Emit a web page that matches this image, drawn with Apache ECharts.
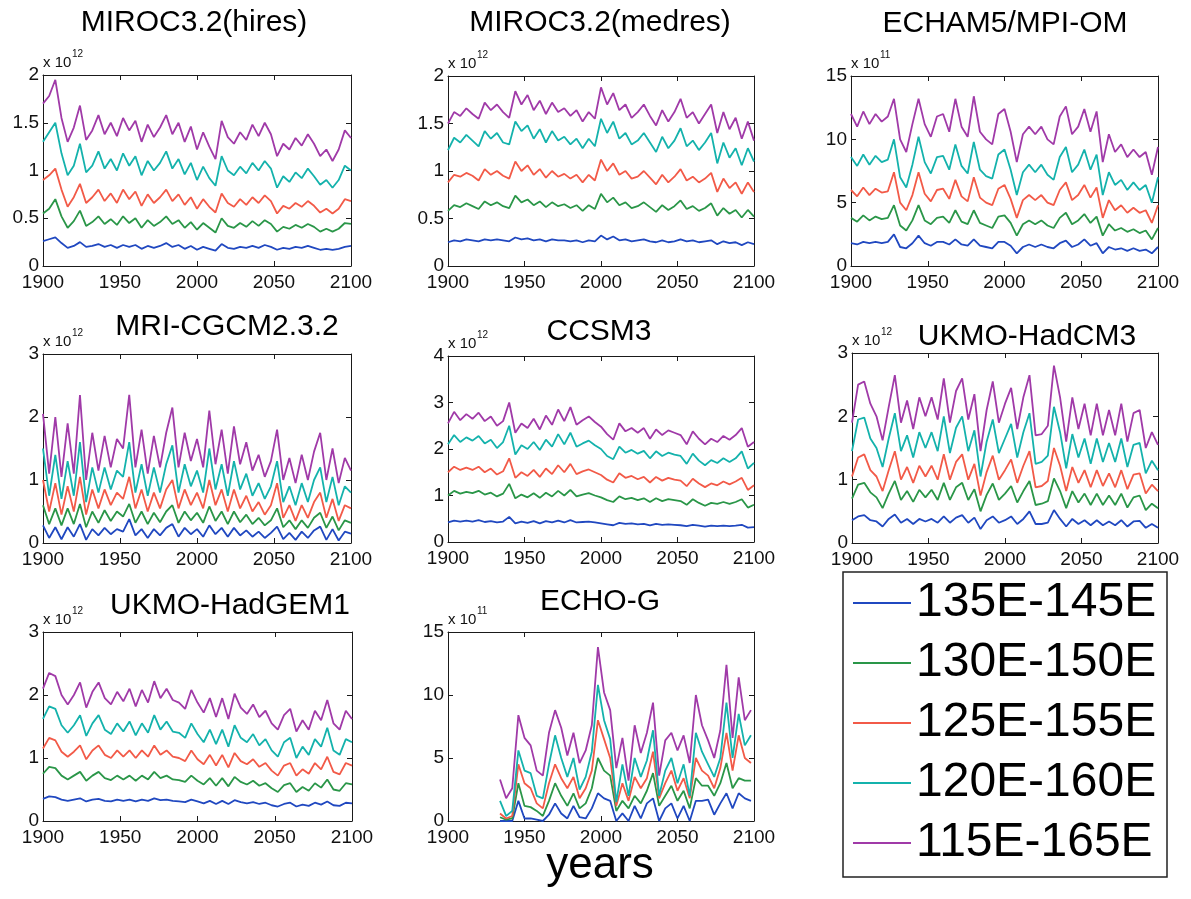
<!DOCTYPE html>
<html><head><meta charset="utf-8">
<script src="https://cdn.jsdelivr.net/npm/echarts@6/dist/echarts.min.js"></script>
<style>html,body{margin:0;padding:0;background:#fff}#c{width:1191px;height:899px}</style>
</head><body><div id="c"></div>
<script>
// ---------- categories / tick data ----------
const years = [1900,1904,1908,1912,1916,1920,1924,1928,1932,1936,1940,1944,1948,1952,1956,1960,1964,1968,1972,1976,1980,1984,1988,1992,1996,2000,2004,2008,2012,2016,2020,2024,2028,2032,2036,2040,2044,2048,2052,2056,2060,2064,2068,2072,2076,2080,2084,2088,2092,2096,2100];
const yearsEchoG = [1934,1938,1942,1946,1950,1954,1958,1962,1966,1970,1974,1978,1982,1986,1990,1994,1998,2002,2006,2010,2014,2018,2022,2026,2030,2034,2038,2042,2046,2050,2054,2058,2062,2066,2070,2074,2078,2082,2086,2090,2094,2098];
const seriesNames = ['135E-145E','130E-150E','125E-155E','120E-160E','115E-165E'];
const seriesColors = ['#2048c0','#2a9648','#f25a48','#14b2ac','#a03aa8'];
const panelTitles = ['MIROC3.2(hires)','MIROC3.2(medres)','ECHAM5/MPI-OM','MRI-CGCM2.3.2','CCSM3','UKMO-HadCM3','UKMO-HadGEM1','ECHO-G'];
const panelExponents = ['12','12','11','12','12','12','12','11'];
const panelYMax = [2,2,15,3,4,3,3,15];
const panelYStep = [0.5,0.5,5,1,1,1,1,5];

// ---------- MIROC3.2(hires) (x 10^12) ----------
const hires_135 = [0.26,0.28,0.30,0.24,0.19,0.21,0.25,0.20,0.21,0.23,0.20,0.22,0.19,0.22,0.20,0.22,0.18,0.21,0.19,0.21,0.24,0.20,0.22,0.18,0.21,0.17,0.20,0.18,0.16,0.23,0.19,0.18,0.20,0.19,0.21,0.19,0.22,0.20,0.17,0.19,0.18,0.20,0.19,0.21,0.19,0.17,0.18,0.17,0.18,0.20,0.21];
const hires_130 = [0.55,0.60,0.70,0.52,0.40,0.47,0.58,0.42,0.46,0.52,0.44,0.49,0.43,0.52,0.45,0.50,0.40,0.48,0.42,0.46,0.52,0.44,0.48,0.40,0.46,0.38,0.45,0.40,0.35,0.50,0.42,0.40,0.45,0.41,0.47,0.42,0.48,0.44,0.36,0.41,0.39,0.43,0.40,0.44,0.41,0.36,0.39,0.36,0.39,0.45,0.44];
const hires_125 = [0.90,0.95,1.02,0.80,0.62,0.72,0.86,0.66,0.72,0.80,0.68,0.76,0.66,0.80,0.70,0.78,0.63,0.75,0.66,0.72,0.80,0.68,0.75,0.64,0.72,0.60,0.70,0.62,0.56,0.76,0.66,0.62,0.70,0.64,0.72,0.66,0.74,0.68,0.55,0.63,0.60,0.66,0.62,0.68,0.63,0.56,0.60,0.55,0.60,0.70,0.68];
const hires_120 = [1.30,1.40,1.50,1.18,0.95,1.05,1.28,0.98,1.05,1.20,1.02,1.12,1.00,1.18,1.05,1.15,0.95,1.10,1.00,1.08,1.20,1.02,1.12,0.96,1.08,0.90,1.04,0.92,0.84,1.15,1.00,0.95,1.04,0.97,1.08,1.00,1.10,1.02,0.82,0.94,0.88,0.98,0.92,1.02,0.94,0.85,0.90,0.82,0.90,1.05,1.00];
const hires_115 = [1.70,1.78,1.95,1.55,1.30,1.45,1.68,1.32,1.42,1.58,1.38,1.50,1.36,1.55,1.42,1.52,1.30,1.48,1.35,1.45,1.58,1.38,1.50,1.30,1.46,1.22,1.40,1.25,1.12,1.52,1.35,1.28,1.40,1.32,1.48,1.36,1.50,1.38,1.15,1.28,1.22,1.34,1.26,1.38,1.28,1.15,1.22,1.10,1.22,1.42,1.34];

// ---------- MIROC3.2(medres) (x 10^12) ----------
const medres_135 = [0.25,0.27,0.26,0.28,0.27,0.26,0.28,0.27,0.28,0.27,0.26,0.30,0.28,0.29,0.27,0.28,0.26,0.28,0.27,0.27,0.26,0.27,0.25,0.27,0.26,0.32,0.28,0.31,0.27,0.28,0.26,0.27,0.28,0.26,0.25,0.27,0.25,0.26,0.28,0.26,0.27,0.25,0.26,0.27,0.23,0.26,0.24,0.25,0.22,0.25,0.23];
const medres_130 = [0.58,0.64,0.62,0.66,0.63,0.60,0.68,0.64,0.67,0.63,0.61,0.74,0.67,0.70,0.64,0.68,0.62,0.67,0.63,0.65,0.61,0.64,0.58,0.64,0.60,0.76,0.67,0.72,0.64,0.67,0.61,0.63,0.67,0.62,0.57,0.64,0.59,0.63,0.69,0.60,0.63,0.58,0.61,0.66,0.53,0.61,0.55,0.59,0.51,0.59,0.52];
const medres_125 = [0.88,0.96,0.94,0.98,0.95,0.90,1.02,0.96,1.00,0.95,0.92,1.10,1.00,1.06,0.96,1.02,0.93,1.00,0.94,0.97,0.92,0.96,0.88,0.96,0.90,1.12,1.00,1.08,0.96,1.00,0.92,0.94,1.00,0.93,0.86,0.96,0.88,0.94,1.02,0.90,0.94,0.88,0.92,0.98,0.78,0.92,0.82,0.88,0.76,0.88,0.78];
const medres_120 = [1.22,1.35,1.30,1.38,1.32,1.26,1.42,1.34,1.40,1.30,1.28,1.52,1.42,1.48,1.34,1.44,1.30,1.42,1.32,1.36,1.28,1.34,1.24,1.34,1.26,1.55,1.40,1.52,1.34,1.40,1.28,1.32,1.40,1.30,1.20,1.36,1.24,1.32,1.45,1.26,1.32,1.22,1.30,1.40,1.08,1.30,1.14,1.24,1.06,1.24,1.10];
const medres_115 = [1.50,1.62,1.58,1.66,1.60,1.55,1.72,1.64,1.70,1.62,1.56,1.84,1.70,1.80,1.64,1.74,1.60,1.72,1.62,1.66,1.58,1.64,1.52,1.62,1.55,1.88,1.70,1.82,1.64,1.70,1.56,1.62,1.70,1.58,1.48,1.64,1.52,1.62,1.76,1.56,1.62,1.50,1.60,1.70,1.40,1.62,1.44,1.56,1.34,1.52,1.32];

// ---------- ECHAM5/MPI-OM (x 10^11) ----------
const echam_135 = [1.8,1.7,1.9,1.8,1.9,1.8,1.9,2.5,1.5,1.4,1.8,2.4,1.8,1.6,1.9,1.9,1.7,2.1,1.7,1.6,2.1,1.6,1.5,1.4,1.9,1.9,1.6,1.0,1.5,1.7,1.5,1.7,1.5,1.4,1.8,2.0,1.5,1.7,2.1,1.6,1.8,1.0,1.5,1.3,1.4,1.2,1.4,1.2,1.3,1.0,1.5];
const echam_130 = [3.8,3.5,4.0,3.6,3.9,3.7,3.8,4.8,3.2,2.8,3.6,4.8,3.6,3.3,3.8,3.9,3.4,4.4,3.5,3.3,4.4,3.4,3.2,3.0,3.9,4.0,3.4,2.4,3.3,3.6,3.3,3.6,3.2,3.0,3.8,4.2,3.3,3.6,4.1,3.4,3.9,2.4,3.3,2.8,3.0,2.7,2.9,2.6,2.8,2.1,3.0];
const echam_125 = [6.0,5.5,6.2,5.6,6.1,5.8,5.9,7.4,5.0,4.4,5.6,7.4,5.7,5.1,6.0,6.1,5.3,6.8,5.5,5.1,7.0,5.4,5.0,4.8,6.1,6.4,5.3,3.8,5.2,5.6,5.2,5.6,5.0,4.8,6.0,6.6,5.2,5.6,6.4,5.4,6.2,3.8,5.2,4.4,4.8,4.2,4.6,4.2,4.4,3.4,4.8];
const echam_120 = [8.6,7.9,8.8,8.0,8.7,8.2,8.4,10.0,7.0,6.2,8.0,10.2,8.2,7.3,8.6,8.7,7.6,9.6,7.9,7.3,9.8,7.6,7.1,6.9,8.8,9.2,7.6,5.6,7.4,8.0,7.4,8.0,7.2,6.8,8.6,9.4,7.4,8.0,9.2,7.6,8.8,5.6,7.4,6.4,6.8,6.0,6.6,6.0,6.4,5.0,7.0];
const echam_115 = [12.0,11.0,12.2,11.2,12.0,11.4,11.8,13.2,10.0,9.0,11.2,13.2,11.2,10.2,11.8,12.0,10.6,13.2,11.0,10.2,13.4,10.6,10.0,9.6,12.0,12.4,10.6,8.2,10.4,11.0,10.4,11.0,10.0,9.6,11.8,12.6,10.4,11.0,12.4,10.6,12.2,8.2,10.4,9.0,9.6,8.6,9.2,8.6,9.0,7.2,9.4];

// ---------- MRI-CGCM2.3.2 (x 10^12) ----------
const mri_135 = [0.28,0.08,0.25,0.06,0.25,0.10,0.30,0.05,0.22,0.12,0.24,0.14,0.22,0.18,0.38,0.12,0.22,0.08,0.22,0.12,0.24,0.30,0.10,0.24,0.14,0.22,0.10,0.28,0.14,0.24,0.10,0.24,0.12,0.20,0.10,0.18,0.08,0.16,0.26,0.06,0.16,0.05,0.18,0.08,0.20,0.26,0.05,0.22,0.04,0.18,0.15];
const mri_130 = [0.60,0.30,0.55,0.28,0.55,0.30,0.62,0.25,0.50,0.32,0.52,0.35,0.50,0.42,0.62,0.32,0.50,0.30,0.48,0.33,0.50,0.60,0.32,0.50,0.36,0.48,0.32,0.58,0.35,0.50,0.30,0.50,0.33,0.45,0.30,0.40,0.28,0.36,0.55,0.25,0.36,0.22,0.36,0.24,0.40,0.48,0.24,0.42,0.20,0.36,0.32];
const mri_125 = [1.00,0.50,0.95,0.45,0.90,0.50,1.05,0.45,0.85,0.55,0.85,0.60,0.80,0.70,1.05,0.55,0.85,0.50,0.80,0.55,0.85,1.00,0.55,0.85,0.60,0.80,0.55,1.00,0.60,0.85,0.50,0.85,0.55,0.75,0.50,0.65,0.45,0.60,0.95,0.40,0.60,0.35,0.60,0.40,0.65,0.80,0.40,0.70,0.35,0.60,0.55];
const mri_120 = [1.50,0.75,1.40,0.70,1.30,0.75,1.60,0.65,1.20,0.80,1.20,0.85,1.15,1.05,1.60,0.80,1.25,0.75,1.20,0.80,1.25,1.55,0.80,1.25,0.90,1.15,0.80,1.50,0.85,1.25,0.75,1.30,0.85,1.10,0.75,0.95,0.70,0.90,1.30,0.65,0.90,0.60,0.95,0.65,1.00,1.20,0.65,1.05,0.60,0.90,0.80];
const mri_115 = [2.05,1.10,2.00,1.05,1.90,1.10,2.35,1.00,1.75,1.15,1.70,1.20,1.65,1.50,2.35,1.20,1.80,1.10,1.70,1.20,1.75,2.15,1.20,1.75,1.30,1.65,1.20,2.10,1.25,1.80,1.10,1.85,1.25,1.60,1.15,1.40,1.05,1.30,1.80,1.00,1.35,0.95,1.40,1.00,1.45,1.75,1.00,1.50,0.95,1.35,1.15];

// ---------- CCSM3 (x 10^12) ----------
const ccsm_135 = [0.42,0.46,0.44,0.46,0.44,0.47,0.43,0.45,0.42,0.44,0.54,0.40,0.44,0.41,0.45,0.40,0.45,0.42,0.46,0.42,0.47,0.42,0.43,0.44,0.42,0.40,0.38,0.36,0.41,0.39,0.40,0.38,0.39,0.36,0.39,0.37,0.38,0.37,0.36,0.34,0.37,0.35,0.33,0.35,0.34,0.35,0.34,0.35,0.37,0.31,0.32];
const ccsm_130 = [1.00,1.10,1.04,1.08,1.05,1.10,1.02,1.06,0.98,1.04,1.25,0.94,1.02,0.96,1.05,0.95,1.06,0.98,1.10,1.00,1.12,0.98,1.02,1.05,1.00,0.96,0.90,0.86,0.98,0.92,0.95,0.90,0.94,0.86,0.94,0.88,0.92,0.90,0.88,0.80,0.92,0.84,0.78,0.84,0.82,0.86,0.82,0.86,0.92,0.74,0.80];
const ccsm_125 = [1.50,1.62,1.55,1.60,1.55,1.62,1.50,1.58,1.45,1.52,1.80,1.38,1.50,1.42,1.55,1.40,1.58,1.46,1.65,1.50,1.68,1.46,1.52,1.56,1.50,1.44,1.34,1.28,1.48,1.38,1.42,1.35,1.40,1.28,1.40,1.32,1.38,1.34,1.32,1.20,1.36,1.26,1.18,1.26,1.22,1.30,1.24,1.30,1.38,1.12,1.22];
const ccsm_120 = [2.10,2.30,2.15,2.25,2.18,2.28,2.12,2.20,2.02,2.15,2.50,1.88,2.08,2.00,2.15,1.98,2.20,2.05,2.32,2.10,2.35,2.05,2.12,2.18,2.08,2.00,1.85,1.78,2.05,1.92,1.98,1.90,1.96,1.80,1.95,1.85,1.92,1.88,1.85,1.68,1.90,1.75,1.65,1.76,1.70,1.80,1.72,1.80,1.95,1.58,1.70];
const ccsm_115 = [2.55,2.80,2.62,2.75,2.65,2.78,2.60,2.70,2.50,2.60,3.00,2.35,2.55,2.45,2.65,2.42,2.72,2.52,2.85,2.60,2.90,2.52,2.62,2.70,2.58,2.48,2.32,2.20,2.55,2.38,2.45,2.35,2.45,2.22,2.42,2.30,2.40,2.35,2.30,2.10,2.38,2.22,2.10,2.22,2.15,2.28,2.20,2.30,2.45,2.05,2.15];

// ---------- UKMO-HadCM3 (x 10^12) ----------
const hadcm_135 = [0.36,0.42,0.44,0.36,0.34,0.26,0.38,0.45,0.32,0.38,0.30,0.38,0.34,0.38,0.32,0.42,0.32,0.40,0.44,0.32,0.40,0.22,0.36,0.42,0.32,0.36,0.42,0.30,0.38,0.50,0.30,0.30,0.32,0.52,0.38,0.26,0.38,0.30,0.36,0.28,0.36,0.28,0.34,0.28,0.36,0.26,0.34,0.35,0.24,0.30,0.24];
const hadcm_130 = [0.70,0.92,0.95,0.80,0.72,0.55,0.78,0.98,0.68,0.82,0.65,0.84,0.72,0.84,0.68,0.95,0.68,0.88,0.95,0.68,0.85,0.50,0.76,0.94,0.68,0.78,0.90,0.64,0.82,0.98,0.60,0.62,0.66,1.02,0.82,0.55,0.82,0.64,0.78,0.60,0.78,0.60,0.75,0.60,0.78,0.56,0.72,0.75,0.52,0.62,0.55];
const hadcm_125 = [1.05,1.35,1.40,1.15,1.05,0.82,1.15,1.45,1.00,1.20,0.95,1.22,1.05,1.22,1.00,1.40,1.00,1.28,1.40,1.00,1.25,0.75,1.12,1.38,1.00,1.15,1.32,0.95,1.22,1.45,0.88,0.90,0.98,1.50,1.22,0.82,1.20,0.95,1.15,0.88,1.15,0.90,1.10,0.88,1.15,0.85,1.08,1.10,0.78,0.92,0.82];
const hadcm_120 = [1.45,1.95,1.98,1.65,1.50,1.20,1.65,2.05,1.45,1.70,1.35,1.75,1.50,1.75,1.45,2.00,1.42,1.82,2.00,1.45,1.78,1.05,1.60,1.95,1.42,1.65,1.88,1.35,1.75,2.05,1.25,1.28,1.38,2.15,1.75,1.18,1.72,1.35,1.65,1.25,1.65,1.28,1.58,1.28,1.65,1.20,1.55,1.58,1.10,1.30,1.15];
const hadcm_115 = [1.90,2.50,2.55,2.20,2.00,1.62,2.15,2.65,1.90,2.25,1.80,2.30,2.00,2.30,1.95,2.60,1.90,2.40,2.60,1.95,2.35,1.45,2.10,2.55,1.90,2.20,2.45,1.80,2.30,2.65,1.70,1.72,1.85,2.80,2.30,1.60,2.30,1.80,2.20,1.70,2.20,1.70,2.10,1.70,2.20,1.60,2.05,2.10,1.50,1.75,1.55];

// ---------- UKMO-HadGEM1 (x 10^12) ----------
const hadgem_135 = [0.35,0.39,0.38,0.34,0.32,0.34,0.36,0.31,0.34,0.35,0.32,0.31,0.34,0.32,0.34,0.31,0.34,0.32,0.36,0.33,0.34,0.32,0.31,0.30,0.34,0.31,0.28,0.32,0.27,0.32,0.27,0.33,0.30,0.28,0.30,0.27,0.29,0.25,0.23,0.27,0.29,0.23,0.26,0.24,0.29,0.26,0.31,0.25,0.24,0.29,0.28];
const hadgem_130 = [0.75,0.86,0.84,0.72,0.66,0.72,0.78,0.64,0.72,0.78,0.68,0.65,0.72,0.66,0.72,0.64,0.72,0.66,0.78,0.68,0.72,0.66,0.65,0.62,0.72,0.64,0.58,0.68,0.56,0.68,0.55,0.70,0.62,0.58,0.64,0.56,0.60,0.52,0.46,0.57,0.60,0.46,0.54,0.48,0.60,0.53,0.66,0.50,0.48,0.60,0.58];
const hadgem_125 = [1.15,1.32,1.28,1.10,1.02,1.10,1.20,0.98,1.12,1.20,1.05,1.00,1.12,1.02,1.12,1.00,1.12,1.02,1.20,1.05,1.12,1.02,1.00,0.95,1.12,0.98,0.90,1.05,0.88,1.05,0.85,1.08,0.95,0.90,0.98,0.86,0.92,0.80,0.72,0.88,0.92,0.72,0.82,0.75,0.92,0.82,1.02,0.78,0.74,0.92,0.88];
const hadgem_120 = [1.62,1.82,1.78,1.52,1.40,1.52,1.68,1.35,1.55,1.68,1.45,1.38,1.55,1.42,1.58,1.36,1.55,1.40,1.68,1.45,1.58,1.42,1.40,1.32,1.55,1.38,1.25,1.45,1.22,1.45,1.18,1.52,1.32,1.25,1.38,1.20,1.30,1.12,1.02,1.25,1.32,1.00,1.18,1.05,1.30,1.18,1.48,1.12,1.05,1.30,1.25];
const hadgem_115 = [2.10,2.35,2.30,2.00,1.85,2.00,2.20,1.80,2.05,2.20,1.95,1.85,2.05,1.90,2.10,1.82,2.08,1.88,2.22,1.95,2.10,1.92,1.88,1.78,2.08,1.88,1.72,1.95,1.65,1.95,1.62,2.02,1.80,1.70,1.85,1.65,1.75,1.55,1.45,1.68,1.78,1.42,1.60,1.45,1.75,1.60,1.92,1.55,1.45,1.75,1.62];

// ---------- ECHO-G (x 10^11), starts 1934 ----------
const echo_135 = [0.0,0.0,0.0,1.6,0.2,0.2,0.1,0.0,0.5,1.4,0.6,0.2,1.2,0.3,0.2,1.0,2.2,1.8,1.6,0.0,0.6,0.0,1.2,0.2,1.4,1.8,0.0,1.0,1.4,0.2,1.2,0.0,1.6,1.6,1.7,0.5,1.4,2.2,1.0,2.2,1.8,1.6];
const echo_130 = [0.3,0.1,0.2,3.0,1.2,1.1,0.8,0.4,1.6,3.0,2.0,1.2,2.2,1.0,1.4,2.6,5.0,4.0,3.6,0.8,1.6,1.0,2.0,1.4,2.4,3.8,1.2,2.0,2.8,1.6,2.4,1.0,3.4,2.8,2.8,2.0,3.0,4.6,2.6,3.4,3.2,3.2];
const echo_125 = [0.6,0.2,0.4,4.5,3.0,2.6,1.4,1.0,3.0,4.5,3.4,2.6,3.5,1.8,2.6,4.0,8.0,6.5,5.0,1.2,3.0,1.6,3.5,2.6,3.4,5.5,1.8,3.0,4.0,2.4,3.4,1.8,5.0,4.0,3.6,2.6,4.2,7.0,4.0,6.8,5.0,4.6];
const echo_120 = [1.6,0.4,0.8,5.6,4.0,3.8,2.0,1.8,4.5,6.8,5.0,3.5,5.0,2.5,3.5,5.5,10.8,8.0,6.5,1.5,4.5,2.0,5.0,3.5,4.8,7.2,2.0,4.0,5.0,3.0,4.5,2.0,7.0,5.5,4.5,3.5,5.0,9.4,5.0,8.5,6.0,6.8];
const echo_115 = [3.3,1.8,2.6,8.4,6.6,6.0,4.0,3.6,7.0,8.8,7.4,5.2,7.0,4.6,5.6,7.6,13.8,10.2,8.8,4.2,6.6,3.2,7.6,5.4,7.0,9.4,3.6,6.4,7.0,5.6,6.8,4.6,10.0,7.6,6.4,5.0,7.2,12.4,6.6,11.4,8.0,8.8];

const panelX = [years,years,years,years,years,years,years,yearsEchoG];
const panelData = [
  [hires_135,hires_130,hires_125,hires_120,hires_115],
  [medres_135,medres_130,medres_125,medres_120,medres_115],
  [echam_135,echam_130,echam_125,echam_120,echam_115],
  [mri_135,mri_130,mri_125,mri_120,mri_115],
  [ccsm_135,ccsm_130,ccsm_125,ccsm_120,ccsm_115],
  [hadcm_135,hadcm_130,hadcm_125,hadcm_120,hadcm_115],
  [hadgem_135,hadgem_130,hadgem_125,hadgem_120,hadgem_115],
  [echo_135,echo_130,echo_125,echo_120,echo_115]
];

// ---------- layout (pixel positions) ----------
const layout = [
  {left:43, top:75, width:308, height:191, tx:194, ty:23},
  {left:448,top:76, width:306, height:190, tx:600, ty:23},
  {left:851,top:76, width:307, height:190, tx:1005,ty:24},
  {left:43, top:354,width:308, height:189, tx:227, ty:327},
  {left:448,top:356,width:306, height:186, tx:599, ty:332},
  {left:852,top:353,width:306, height:190, tx:1027,ty:337},
  {left:43, top:632,width:309, height:189, tx:230, ty:606},
  {left:448,top:632,width:306, height:189, tx:600, ty:602}
];

const FONT = 'Liberation Sans, Arial, Helvetica, sans-serif';
const AX = '#1a1a1a';
const plainNum = v => String(v);

const grids = [], xAxes = [], yAxes = [], series = [], graphics = [];
layout.forEach((L, i) => {
  grids.push({left:L.left, top:L.top, width:L.width, height:L.height, containLabel:false});
  const common = {
    gridIndex:i, type:'value', splitLine:{show:false},
    axisLine:{show:true, onZero:false, lineStyle:{color:AX, width:1}},
    axisTick:{show:true, inside:true, length:5, lineStyle:{color:AX, width:1}}
  };
  xAxes.push(Object.assign({}, common, {position:'bottom', min:1900, max:2100, interval:50,
    axisLabel:{show:true, color:'#111', fontSize:19, fontFamily:FONT, margin:7, formatter:plainNum}}));
  xAxes.push(Object.assign({}, common, {position:'top', min:1900, max:2100, interval:50, axisLabel:{show:false}}));
  yAxes.push(Object.assign({}, common, {position:'left', min:0, max:panelYMax[i], interval:panelYStep[i],
    axisLabel:{show:true, color:'#111', fontSize:19, fontFamily:FONT, margin:4, formatter:plainNum}}));
  yAxes.push(Object.assign({}, common, {position:'right', min:0, max:panelYMax[i], interval:panelYStep[i], axisLabel:{show:false}}));

  panelData[i].forEach((arr, s) => {
    series.push({
      type:'line', name:seriesNames[s], xAxisIndex:2*i, yAxisIndex:2*i,
      data: panelX[i].map((yr, k) => [yr, arr[k]]),
      symbol:'none', showSymbol:false, clip:true, animation:false,
      lineStyle:{width:1.8, color:seriesColors[s]}, itemStyle:{color:seriesColors[s]},
      emphasis:{disabled:true}, z:2+s
    });
  });

  graphics.push({type:'text', x:L.tx, y:L.ty, style:{text:panelTitles[i], font:'30px ' + FONT, fill:'#000', textAlign:'center', textVerticalAlign:'middle'}});
  graphics.push({type:'text', x:L.left, y:L.top-12, style:{text:'x 10', font:'15px ' + FONT, fill:'#111', textAlign:'left', textVerticalAlign:'middle'}});
  graphics.push({type:'text', x:L.left+29, y:L.top-21, style:{text:panelExponents[i], font:'10px ' + FONT, fill:'#111', textAlign:'left', textVerticalAlign:'middle'}});
});

graphics.push({type:'rect', shape:{x:843, y:572, width:324, height:305}, style:{fill:'none', stroke:'#222', lineWidth:1.5}, z:0});
graphics.push({type:'text', x:600, y:866, style:{text:'years', font:'44px ' + FONT, fill:'#000', textAlign:'center', textVerticalAlign:'middle'}});

const chart = echarts.init(document.getElementById('c'), null, {renderer:'canvas'});
chart.setOption({
  backgroundColor:'#ffffff',
  animation:false,
  grid:grids, xAxis:xAxes, yAxis:yAxes, series:series,
  legend:{
    data:seriesNames, orient:'vertical', left:853, top:578, padding:0,
    icon:'rect', itemWidth:58, itemHeight:2, itemGap:10, selectedMode:false,
    textStyle:{fontSize:48, lineHeight:50, color:'#000', fontFamily:FONT}
  },
  graphic:graphics
});
</script>
</body></html>
